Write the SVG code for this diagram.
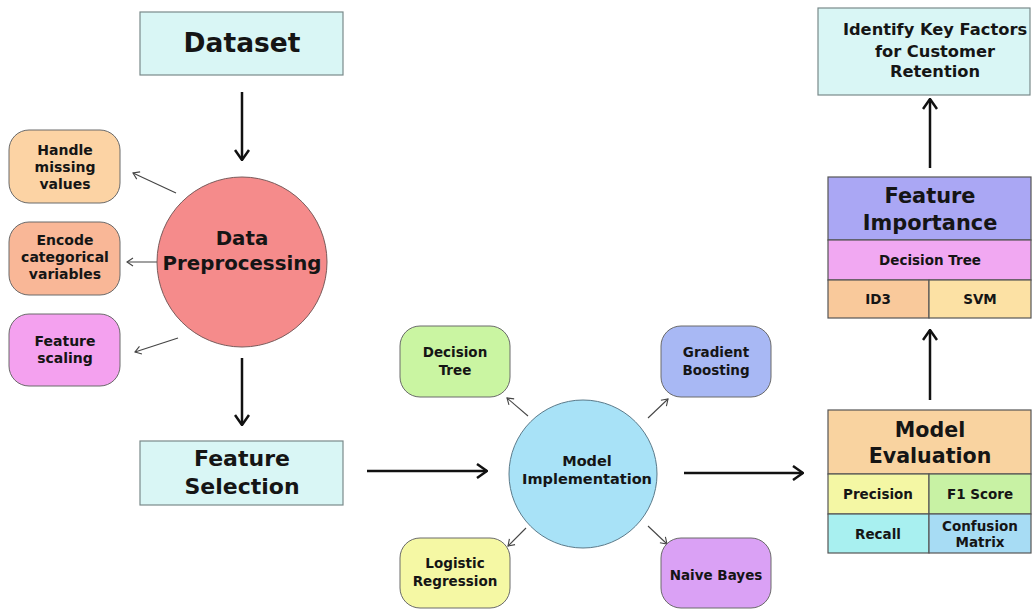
<svg xmlns="http://www.w3.org/2000/svg" width="1033" height="612" viewBox="0 0 1033 612">
  <style>
    text { font-family: "DejaVu Sans", "Noto Sans", sans-serif; font-weight: 700; fill: #151515; text-anchor: middle; }
    .box { stroke: #7a8a8a; stroke-width: 1.2; }
    .pill { stroke: #6a6a6a; stroke-width: 1; }
    .cell { stroke: #555; stroke-width: 1.2; }
    .main { stroke: #111; stroke-width: 2.5; fill: none; marker-end: url(#chev); }
    .thin { stroke: #444; stroke-width: 1.1; fill: none; marker-end: url(#chevs); }
    .s { font-size: 14px; }
    .m { font-size: 13.5px; }
  </style>
  <defs>
    <marker id="chev" viewBox="0 0 12 16" refX="11" refY="8" markerWidth="12" markerHeight="16" markerUnits="userSpaceOnUse" orient="auto">
      <path d="M1,1 L11,8 L1,15" fill="none" stroke="#111" stroke-width="2.5"/>
    </marker>
    <marker id="chevs" viewBox="0 0 8 10" refX="7" refY="5" markerWidth="8" markerHeight="10" markerUnits="userSpaceOnUse" orient="auto">
      <path d="M1,1 L7,5 L1,9" fill="none" stroke="#444" stroke-width="1.1"/>
    </marker>
  </defs>
  <rect width="1033" height="612" fill="#ffffff"/>

  <!-- connectors -->
  <g id="connectors">
    <line class="main" x1="242" y1="92" x2="242" y2="160"/>
    <line class="main" x1="242" y1="358" x2="242" y2="425"/>
    <line class="main" x1="367" y1="471" x2="487" y2="471"/>
    <line class="main" x1="684" y1="473" x2="803" y2="473"/>
    <line class="main" x1="930" y1="400" x2="930" y2="330"/>
    <line class="main" x1="930" y1="168" x2="930" y2="99"/>
    <line class="thin" x1="176" y1="193" x2="133" y2="173"/>
    <line class="thin" x1="162" y1="262" x2="127" y2="262"/>
    <line class="thin" x1="178" y1="338" x2="135" y2="352"/>
    <line class="thin" x1="528" y1="416" x2="507" y2="398"/>
    <line class="thin" x1="648" y1="418" x2="668" y2="399"/>
    <line class="thin" x1="526" y1="528" x2="508" y2="546"/>
    <line class="thin" x1="648" y1="526" x2="667" y2="544"/>
  </g>

  <g id="dataset">
    <rect class="box" x="140" y="12" width="203" height="63" fill="#d9f6f5"/>
    <text x="242" y="52" font-size="26.5">Dataset</text>
  </g>

  <g id="data-preprocessing">
    <circle cx="242" cy="262" r="85" fill="#f58b8b" stroke="#7a5a5a" stroke-width="1"/>
    <text x="242" y="245" font-size="19.8">Data</text>
    <text x="242" y="270" font-size="19.8">Preprocessing</text>
  </g>

  <g id="handle-missing">
    <rect class="pill" x="9" y="130" width="111" height="73" rx="20" fill="#fcd3a4"/>
    <text class="s" x="65" y="155">Handle</text>
    <text class="s" x="65" y="172">missing</text>
    <text class="s" x="65" y="189">values</text>
  </g>

  <g id="encode-categorical">
    <rect class="pill" x="9" y="222" width="111" height="73" rx="20" fill="#f9b797"/>
    <text class="s" x="65" y="245">Encode</text>
    <text class="s" x="65" y="262">categorical</text>
    <text class="s" x="65" y="279">variables</text>
  </g>

  <g id="feature-scaling">
    <rect class="pill" x="9" y="314" width="111" height="72" rx="20" fill="#f4a1ef"/>
    <text class="s" x="65" y="346">Feature</text>
    <text class="s" x="65" y="363">scaling</text>
  </g>

  <g id="feature-selection">
    <rect class="box" x="140" y="441" width="203" height="64" fill="#d9f6f5"/>
    <text x="242" y="466" font-size="22">Feature</text>
    <text x="242" y="494" font-size="22">Selection</text>
  </g>

  <g id="model-implementation">
    <circle cx="583" cy="474" r="74" fill="#a8e2f7" stroke="#5a7a8a" stroke-width="1"/>
    <text x="587" y="466" font-size="14.5">Model</text>
    <text x="587" y="484" font-size="14.5">Implementation</text>
  </g>

  <g id="decision-tree">
    <rect class="pill" x="400" y="326" width="110" height="71" rx="20" fill="#caf5a2"/>
    <text class="m" x="455" y="357">Decision</text>
    <text class="m" x="455" y="375">Tree</text>
  </g>

  <g id="gradient-boosting">
    <rect class="pill" x="661" y="326" width="110" height="71" rx="20" fill="#a8b8f4"/>
    <text class="m" x="716" y="357">Gradient</text>
    <text class="m" x="716" y="375">Boosting</text>
  </g>

  <g id="logistic-regression">
    <rect class="pill" x="400" y="538" width="110" height="70" rx="20" fill="#f5f8a4"/>
    <text class="m" x="455" y="568">Logistic</text>
    <text class="m" x="455" y="586">Regression</text>
  </g>

  <g id="naive-bayes">
    <rect class="pill" x="661" y="538" width="110" height="70" rx="20" fill="#daa1f5"/>
    <text class="m" x="716" y="580">Naive Bayes</text>
  </g>

  <g id="model-evaluation">
    <rect class="cell" x="828" y="410" width="203" height="64" fill="#f9d3a0"/>
    <rect class="cell" x="828" y="474" width="101" height="40" fill="#f4f7a4"/>
    <rect class="cell" x="929" y="474" width="102" height="40" fill="#c8f2a4"/>
    <rect class="cell" x="828" y="514" width="101" height="39" fill="#a8f0f0"/>
    <rect class="cell" x="929" y="514" width="102" height="39" fill="#a7dcf4"/>
    <text x="930" y="437" font-size="20.6">Model</text>
    <text x="930" y="463" font-size="20.6">Evaluation</text>
    <text class="m" x="878" y="499">Precision</text>
    <text class="m" x="980" y="499">F1 Score</text>
    <text class="m" x="878" y="539">Recall</text>
    <text class="m" x="980" y="531">Confusion</text>
    <text class="m" x="980" y="547">Matrix</text>
  </g>

  <g id="feature-importance">
    <rect class="cell" x="828" y="177" width="203" height="63" fill="#aaa7f4"/>
    <rect class="cell" x="828" y="240" width="203" height="40" fill="#f1a8f2"/>
    <rect class="cell" x="828" y="280" width="101" height="38" fill="#f9c99b"/>
    <rect class="cell" x="929" y="280" width="102" height="38" fill="#fce1a4"/>
    <text x="930" y="203" font-size="20.9">Feature</text>
    <text x="930" y="230" font-size="20.9">Importance</text>
    <text class="m" x="930" y="265">Decision Tree</text>
    <text class="m" x="878" y="304">ID3</text>
    <text class="m" x="980" y="304">SVM</text>
  </g>

  <g id="key-factors">
    <rect class="box" x="818" y="8" width="212" height="87" fill="#d9f6f5"/>
    <text x="935" y="35" font-size="16.3">Identify Key Factors</text>
    <text x="935" y="57" font-size="16.3">for Customer</text>
    <text x="935" y="77" font-size="16.3">Retention</text>
  </g>
</svg>
